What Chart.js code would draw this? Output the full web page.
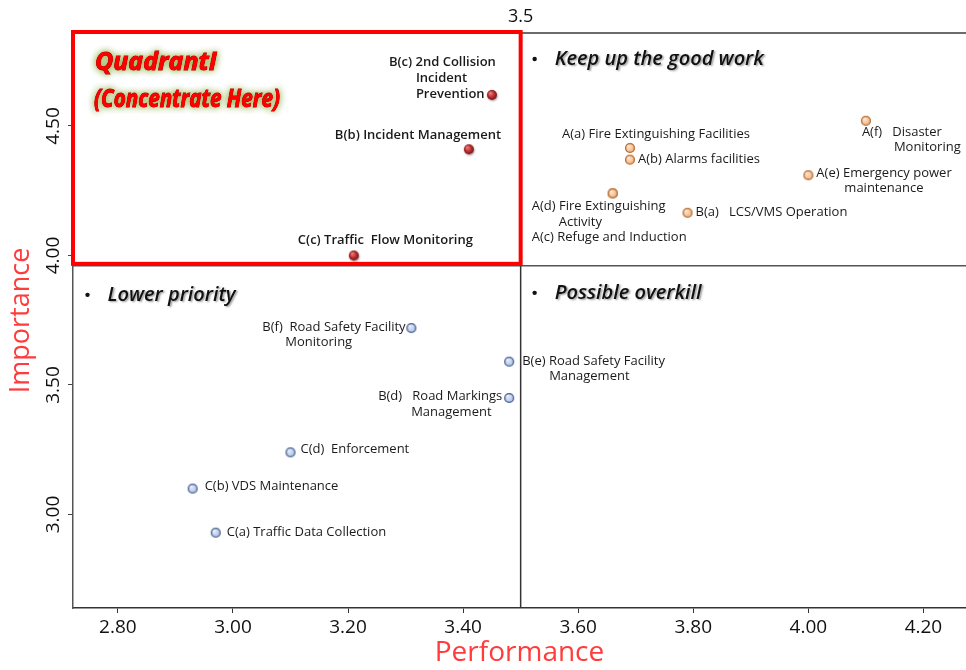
<!DOCTYPE html>
<html>
<head>
<meta charset="utf-8">
<script src="https://cdn.jsdelivr.net/npm/chart.js@4.4.1/dist/chart.umd.min.js"></script>
<style>
  html, body { margin: 0; padding: 0; background: #ffffff; }
  #wrap { width: 966px; height: 670px; position: relative; }
</style>
</head>
<body>
<div id="wrap"><canvas id="ipa"></canvas></div>
<script>
// Importance-Performance Analysis of road / tunnel management items
const xTickValues = [2.8, 3.0, 3.2, 3.4, 3.6, 3.8, 4.0, 4.2];
const yTickValues = [3.0, 3.5, 4.0, 4.5];

// Quadrant I: concentrate here
const focusItems = ['B(c) 2nd Collision Incident Prevention', 'B(b) Incident Management', 'C(c) Traffic Flow Monitoring'];
const focusPerformance = [3.45, 3.41, 3.21];
const focusImportance = [4.62, 4.41, 4.00];

// Keep up the good work
const keepItems = ['A(f) Disaster Monitoring', 'A(a) Fire Extinguishing Facilities', 'A(b) Alarms facilities',
  'A(e) Emergency power maintenance', 'A(d) Fire Extinguishing Activity', 'A(c) Refuge and Induction', 'B(a) LCS/VMS Operation'];
const keepPerformance = [4.10, 3.69, 3.69, 4.00, 3.66, 3.66, 3.79];
const keepImportance = [4.52, 4.415, 4.37, 4.31, 4.24, 4.24, 4.165];

// Lower priority / possible overkill
const lowItems = ['B(f) Road Safety Facility Monitoring', 'B(e) Road Safety Facility Management', 'B(d) Road Markings Management',
  'C(d) Enforcement', 'C(b) VDS Maintenance', 'C(a) Traffic Data Collection'];
const lowPerformance = [3.31, 3.48, 3.48, 3.10, 2.93, 2.97];
const lowImportance = [3.72, 3.59, 3.45, 3.24, 3.10, 2.93];

// Quadrant dividers
const performanceSplit = 3.5;
const importanceSplit = 3.96;

// Label lines for each item: [text, dx, dy] relative to the point
const labelLayout = {
  'B(c)': [['B(c) 2nd Collision', -103, -33], ['Incident', -76, -17], ['Prevention', -76, -1]],
  'B(b)': [['B(b) Incident Management', -134, -14]],
  'C(c)': [['C(c) Traffic  Flow Monitoring', -56, -15]],
  'A(f)': [['A(f)   Disaster', -4, 11], ['Monitoring', 28, 26]],
  'A(a)': [['A(a) Fire Extinguishing Facilities', -68, -14]],
  'A(b)': [['A(b) Alarms facilities', 8, 0]],
  'A(e)': [['A(e) Emergency power', 8, -2], ['maintenance', 36, 13]],
  'A(d)': [['A(d) Fire Extinguishing', -81, 13], ['Activity', -54, 29]],
  'A(c)': [['A(c) Refuge and Induction', -81, 44]],
  'B(a)': [['B(a)   LCS/VMS Operation', 8, 0]],
  'B(f)': [['B(f)  Road Safety Facility', -149, -1], ['Monitoring', -126, 14]],
  'B(e)': [['B(e) Road Safety Facility', 13, 0], ['Management', 40, 15]],
  'B(d)': [['B(d)   Road Markings', -131, -2], ['Management', -98, 14]],
  'C(d)': [['C(d)  Enforcement', 10, -3]],
  'C(b)': [['C(b) VDS Maintenance', 12, -2]],
  'C(a)': [['C(a) Traffic Data Collection', 11, 0]]
};

const FONT = '"Open Sans", "Noto Sans", sans-serif';

// Shaded marker sprites
function makeBall(opts) {
  const r = opts.r, pad = 3;
  const c = document.createElement('canvas');
  c.width = c.height = Math.ceil(2 * (r + pad));
  const g = c.getContext('2d');
  const cx = c.width / 2, cy = c.height / 2;
  if (opts.shadow) {
    g.shadowColor = 'rgba(0,0,0,0.35)';
    g.shadowBlur = 2;
    g.shadowOffsetX = 0.8;
    g.shadowOffsetY = 1.2;
  }
  const grad = g.createRadialGradient(cx - r * 0.35, cy - r * 0.4, r * 0.1, cx, cy, r);
  grad.addColorStop(0, opts.light);
  grad.addColorStop(0.55, opts.mid);
  grad.addColorStop(1, opts.dark);
  g.beginPath();
  g.arc(cx, cy, r, 0, Math.PI * 2);
  g.fillStyle = grad;
  g.fill();
  g.shadowColor = 'transparent';
  if (opts.edge) {
    g.lineWidth = 1.3;
    g.strokeStyle = opts.edge;
    g.beginPath();
    g.arc(cx, cy, r - 0.6, 0, Math.PI * 2);
    g.stroke();
  }
  return c;
}

const redBall = makeBall({ r: 5, light: '#e88080', mid: '#c03030', dark: '#7a1010', shadow: true });
const orangeBall = makeBall({ r: 5, light: '#fde6d2', mid: '#f8c8a0', dark: '#eaa670', edge: '#b5743f' });
const blueBall = makeBall({ r: 5, light: '#e8eefa', mid: '#c4d2ee', dark: '#a6b9e0', edge: '#4f6492' });

function toPoints(xs, ys) {
  return xs.map((x, i) => ({ x: x, y: ys[i] }));
}

const quadrantPlugin = {
  id: 'quadrants',
  beforeDatasetsDraw(chart) {
    const { ctx, chartArea: a, scales: { x, y } } = chart;
    const xs = x.getPixelForValue(performanceSplit);
    const ys = y.getPixelForValue(importanceSplit);
    ctx.save();
    // top frame of the right half
    ctx.strokeStyle = '#6b6b6b';
    ctx.lineWidth = 2;
    ctx.beginPath();
    ctx.moveTo(xs, a.top);
    ctx.lineTo(a.right, a.top);
    ctx.stroke();
    // horizontal divider
    ctx.strokeStyle = '#555555';
    ctx.lineWidth = 1.5;
    ctx.beginPath();
    ctx.moveTo(a.left, ys);
    ctx.lineTo(a.right, ys);
    ctx.stroke();
    // vertical divider
    ctx.strokeStyle = '#333333';
    ctx.lineWidth = 1.5;
    ctx.beginPath();
    ctx.moveTo(xs, a.top);
    ctx.lineTo(xs, a.bottom);
    ctx.stroke();
    ctx.restore();
  },
  afterDatasetsDraw(chart) {
    const { ctx, chartArea: a, scales: { x, y } } = chart;
    const xs = x.getPixelForValue(performanceSplit);
    const ys = y.getPixelForValue(importanceSplit);
    ctx.save();

    // highlighted quadrant frame
    ctx.strokeStyle = '#ff0000';
    ctx.lineWidth = 4;
    ctx.strokeRect(a.left, a.top - 1, xs - a.left, ys - 1 - a.top);

    // split value above the vertical divider
    ctx.fillStyle = '#111111';
    ctx.font = '18px ' + FONT;
    ctx.textAlign = 'center';
    ctx.textBaseline = 'middle';
    ctx.fillText('3.5', xs, 17);

    // point labels
    chart.data.datasets.forEach((ds, di) => {
      const meta = chart.getDatasetMeta(di);
      ctx.font = (ds.labelWeight || 'normal') + ' 13px ' + FONT;
      ctx.fillStyle = '#1a1a1a';
      ctx.textAlign = 'left';
      ctx.textBaseline = 'middle';
      ds.items.forEach((name, i) => {
        const el = meta.data[i];
        const lines = labelLayout[name.split(' ')[0]] || [[name, 8, 0]];
        lines.forEach(([t, dx, dy]) => ctx.fillText(t, el.x + dx, el.y + dy));
      });
    });

    // quadrant captions
    const caption = (text, bx, cy) => {
      ctx.save();
      ctx.fillStyle = '#111111';
      ctx.beginPath();
      ctx.arc(bx, cy, 2.2, 0, Math.PI * 2);
      ctx.fill();
      ctx.font = 'italic 600 20px ' + FONT;
      ctx.textAlign = 'left';
      ctx.textBaseline = 'middle';
      ctx.shadowColor = 'rgba(0,0,0,0.4)';
      ctx.shadowBlur = 2;
      ctx.shadowOffsetX = 1.5;
      ctx.shadowOffsetY = 1.5;
      ctx.fillText(text, bx + 20, cy, 212);
      ctx.restore();
    };
    caption('Keep up the good work', xs + 14, a.top + 26);
    caption('Possible overkill', xs + 14, ys + 27);
    caption('Lower priority', a.left + 14.5, ys + 29);

    // Quadrant I heading with a soft green glow
    const glowText = (text, tx, ty, maxW) => {
      ctx.save();
      ctx.font = 'italic bold 25px ' + FONT;
      ctx.textAlign = 'left';
      ctx.textBaseline = 'middle';
      ctx.shadowColor = 'rgba(130,170,60,0.9)';
      ctx.shadowBlur = 7;
      ctx.fillStyle = '#ff0000';
      ctx.fillText(text, tx, ty, maxW);
      ctx.fillText(text, tx, ty, maxW);
      ctx.shadowColor = 'transparent';
      ctx.lineWidth = 0.8;
      ctx.strokeStyle = '#b00000';
      ctx.strokeText(text, tx, ty, maxW);
      ctx.fillText(text, tx, ty, maxW);
      ctx.restore();
    };
    glowText('QuadrantI', a.left + 22, a.top + 30, 122);
    glowText('(Concentrate Here)', a.left + 21, a.top + 67, 186);

    ctx.restore();
  }
};

new Chart(document.getElementById('ipa'), {
  type: 'scatter',
  data: {
    datasets: [
      { label: 'Concentrate here', items: focusItems, labelWeight: '600',
        data: toPoints(focusPerformance, focusImportance), pointStyle: redBall, pointRadius: 5 },
      { label: 'Keep up the good work', items: keepItems,
        data: toPoints(keepPerformance, keepImportance), pointStyle: orangeBall, pointRadius: 5 },
      { label: 'Lower priority / possible overkill', items: lowItems,
        data: toPoints(lowPerformance, lowImportance), pointStyle: blueBall, pointRadius: 5 }
    ]
  },
  options: {
    responsive: true,
    maintainAspectRatio: false,
    animation: false,
    devicePixelRatio: 1,
    layout: { autoPadding: false, padding: { top: 33, right: 0, left: 0, bottom: 0 } },
    plugins: { legend: { display: false }, tooltip: { enabled: false } },
    scales: {
      x: {
        type: 'linear',
        min: 2.722,
        max: 4.274,
        afterBuildTicks: s => { s.ticks = xTickValues.map(v => ({ value: v })); },
        afterFit: s => { s.height = 62; s.paddingLeft = 0; s.paddingRight = 0; },
        ticks: {
          callback: v => Number(v).toFixed(2),
          font: { family: FONT, size: 19 },
          color: '#111111',
          padding: 3,
          maxRotation: 0,
          autoSkip: false
        },
        grid: { drawOnChartArea: false, drawTicks: true, tickLength: 5, color: '#333333' },
        border: { color: '#333333', width: 1.5 },
        title: {
          display: true, text: 'Performance', color: '#ff3b3b',
          font: { family: FONT, size: 28 }, padding: { top: 0, bottom: 0 }
        }
      },
      y: {
        type: 'linear',
        min: 2.639,
        max: 4.859,
        afterBuildTicks: s => { s.ticks = yTickValues.map(v => ({ value: v })); },
        afterFit: s => { s.width = 73; s.paddingTop = 0; s.paddingBottom = 0; },
        ticks: {
          callback: v => Number(v).toFixed(2),
          font: { family: FONT, size: 19 },
          color: '#111111',
          minRotation: 90,
          maxRotation: 90,
          crossAlign: 'center',
          padding: -4,
          autoSkip: false
        },
        grid: { drawOnChartArea: false, drawTicks: true, tickLength: 5, color: '#444444' },
        border: { color: '#555555', width: 1.5 },
        title: {
          display: true, text: 'Importance', color: '#ff3b3b',
          font: { family: FONT, size: 27 }, padding: { top: 5, bottom: 0 }
        }
      }
    }
  },
  plugins: [quadrantPlugin]
});
</script>
</body>
</html>
